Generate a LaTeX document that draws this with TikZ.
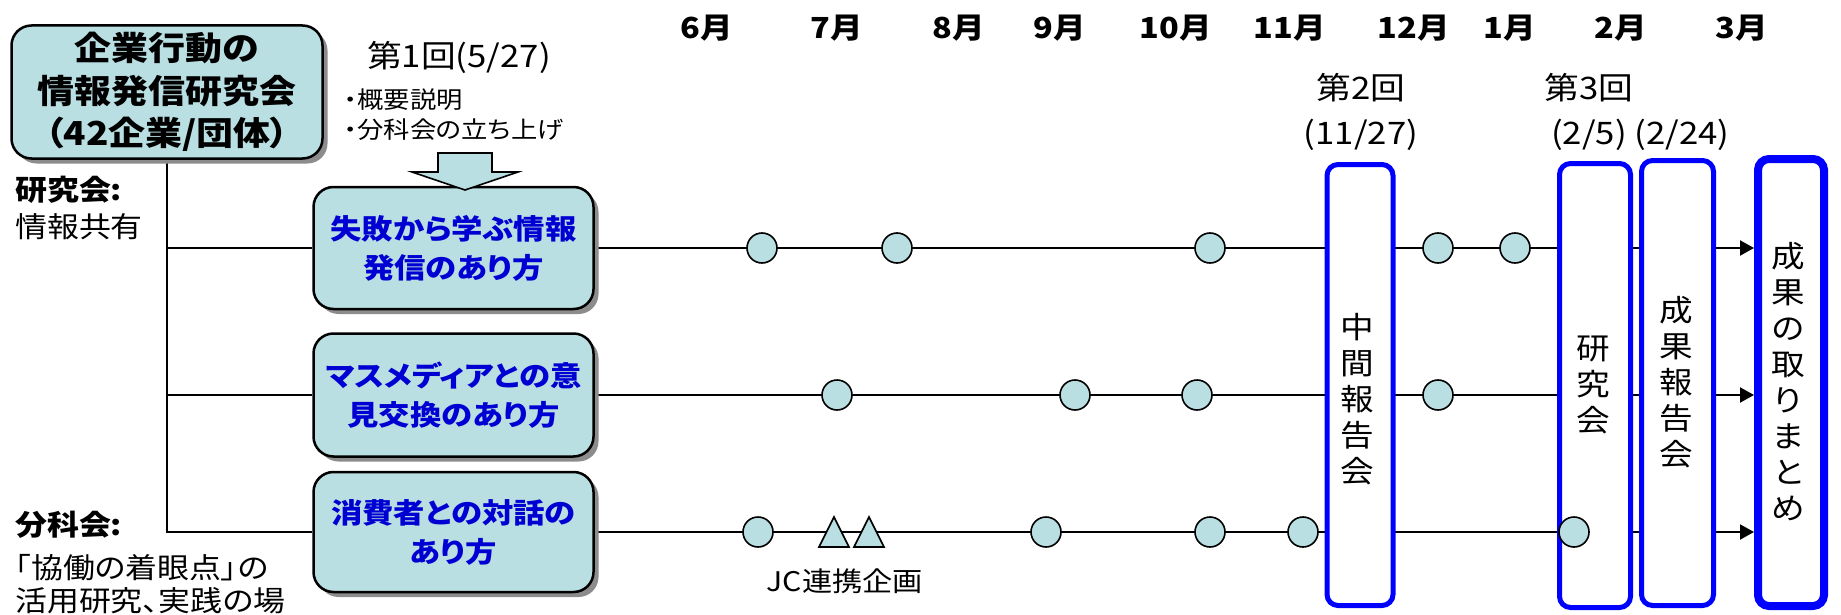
\documentclass[tikz,border=0pt]{standalone}
\usepackage{fontspec}
\newfontfamily\jp[FakeStretch=1.12,RawFeature=+palt]{Noto Sans CJK JP}
\usetikzlibrary{arrows.meta,shadows}
\definecolor{boxfill}{RGB}{185,223,226}
\definecolor{txtblue}{RGB}{0,0,210}
\definecolor{pureblue}{RGB}{0,0,255}
\pgfdeclarelayer{bg}
\pgfsetlayers{bg,main}
\newcommand{\myfs}[2]{\fontsize{#1}{#2}\selectfont}
\tikzset{
  shad/.style={drop shadow={shadow xshift=5pt, shadow yshift=-5pt, fill=black!45, opacity=1}},
  tlbox/.style={draw=black, line width=2.5pt, fill=boxfill, rounded corners=20pt, shad,
    align=center, inner sep=0pt, font=\jp\bfseries\myfs{33}{42.5}},
  tbox/.style={draw=black, line width=2.5pt, fill=boxfill, rounded corners=20pt, shad,
    align=center, inner sep=0pt, text=txtblue, minimum width=280pt, font=\jp\bfseries\myfs{28}{39}},
  bluebox/.style={draw=pureblue, line width=5pt, fill=white, rounded corners=11pt, inner sep=0pt},
  vtext/.style={font=\jp\myfs{30}{36}, align=center, inner sep=0pt},
  dot/.style={circle, draw=black, line width=1.6pt, fill=boxfill, minimum size=30pt, inner sep=0pt},
  tri/.style={draw=black, line width=1.6pt, fill=boxfill, line join=miter},
  tl/.style={draw=black, line width=2pt},
  tlarrow/.style={tl, -{Triangle[length=14pt,width=15pt]}},
  month/.style={font=\jp\bfseries\myfs{29}{34}, inner sep=0pt},
  meet/.style={font=\jp\myfs{31}{36}, inner sep=0pt},
  small/.style={font=\jp\myfs{23.5}{26}, inner sep=0pt, anchor=west},
  lbl/.style={font=\jp\myfs{28.5}{32}, inner sep=0pt, anchor=west},
}
\begin{document}
\begin{tikzpicture}[x=1pt,y=-1pt]
\useasboundingbox (0,0) rectangle (1841,615);

% main boxes
\node[tlbox, minimum width=311pt, minimum height=133pt] (top) at (167,92)
  {企業行動の\\情報発信研究会\\（42企業/団体）};
\node[tbox, minimum height=122pt] (b1) at (453.5,248) {失敗から学ぶ情報\\発信のあり方};
\node[tbox, minimum height=123pt] (b2) at (453.5,395) {マスメディアとの意\\見交換のあり方};
\node[tbox, minimum height=120pt] (b3) at (453.5,532) {消費者との対話の\\あり方};

% blue event boxes
\node[bluebox, minimum width=66pt, minimum height=441pt] (r1) at (1360,385) {};
\node[bluebox, minimum width=71pt, minimum height=444pt] (r2) at (1595,385.5) {};
\node[bluebox, minimum width=72pt, minimum height=445pt] (r3) at (1677.5,383) {};
\node[bluebox, line width=8pt, minimum width=66pt, minimum height=447pt] (r4) at (1791,382.5) {};
\node[vtext] (r1t) at (1357,399) {中\\間\\報\\告\\会};
\node[vtext] (r2t) at (1593,385) {研\\究\\会};
\node[vtext] (r3t) at (1676,382) {成\\果\\報\\告\\会};
\node[vtext] (r4t) at (1788,382) {成\\果\\の\\取\\り\\ま\\と\\め};

% connectors
\begin{pgfonlayer}{bg}
\draw[tl] (top.south) -- (top.south |- b3.west) -- (b3.west);
\draw[tl] (top.south |- b1.west) -- (b1.west);
\draw[tl] (top.south |- b2.west) -- (b2.west);
\draw[tlarrow] (b1.east) -- (b1.east -| r4.west);
\draw[tlarrow] (b2.east) -- (b2.east -| r4.west);
\draw[tlarrow] (b3.east) -- (b3.east -| r4.west);
\end{pgfonlayer}

% milestones line 1
\node[dot] (p11) at (762,248) {};
\node[dot] (p12) at (897,248) {};
\node[dot] (p13) at (1210,248) {};
\node[dot] (p14) at (1438,248) {};
\node[dot] (p15) at (1515,248) {};
% line 2
\node[dot] (p21) at (837,395) {};
\node[dot] (p22) at (1075,395) {};
\node[dot] (p23) at (1197,395) {};
\node[dot] (p24) at (1438,395) {};
% line 3
\node[dot] (p31) at (758,532) {};
\node[dot] (p32) at (1046,532) {};
\node[dot] (p33) at (1210,532) {};
\node[dot] (p34) at (1303,532) {};
\node[dot] (p35) at (1574,532) {};
\draw[tri] (819,547) -- (849,547) -- (834,517) -- cycle;
\draw[tri] (854,547) -- (884,547) -- (869,517) -- cycle;
\node[font=\jp\myfs{27}{32}, inner sep=0pt] (jc) at (845,581) {JC連携企画};

% block arrow
\draw[draw=black, line width=1.6pt, fill=boxfill, line join=miter]
  (438,153) -- (492,153) -- (492,172) -- (518,172) -- (465,190) -- (412,172) -- (438,172) -- cycle;

% months
\node[month] (m6) at (707,28) {6月};
\node[month] (m7) at (837,28) {7月};
\node[month] (m8) at (959,28) {8月};
\node[month] (m9) at (1060,28) {9月};
\node[month] (m10) at (1176,28) {10月};
\node[month] (m11) at (1290,28) {11月};
\node[month] (m12) at (1414,28) {12月};
\node[month] (m1) at (1510,28) {1月};
\node[month] (m2) at (1621,28) {2月};
\node[month] (m3) at (1742,28) {3月};

% meeting labels
\node[meet] (k1) at (459,57) {第1回(5/27)};
\node[small] (k1a) at (344,100) {・概要説明};
\node[small] (k1b) at (344,130) {・分科会の立ち上げ};
\node[meet] (k2) at (1361,88) {第2回};
\node[meet] (k2d) at (1361,135) {(11/27)};
\node[meet] (k3) at (1589,88) {第3回};
\node[meet] (k3d) at (1589,135) {(2/5)};
\node[meet] (k4d) at (1682,135) {(2/24)};

% left labels
\node[lbl] (l1) at (15,190) {\bfseries 研究会:};
\node[lbl] (l2) at (15,227) {情報共有};
\node[lbl] (l3) at (15,525) {\bfseries 分科会:};
\node[lbl] (l4) at (15,568) {「協働の着眼点」の};
\node[lbl] (l5) at (15,601) {活用研究、実践の場};
\end{tikzpicture}
\end{document}
